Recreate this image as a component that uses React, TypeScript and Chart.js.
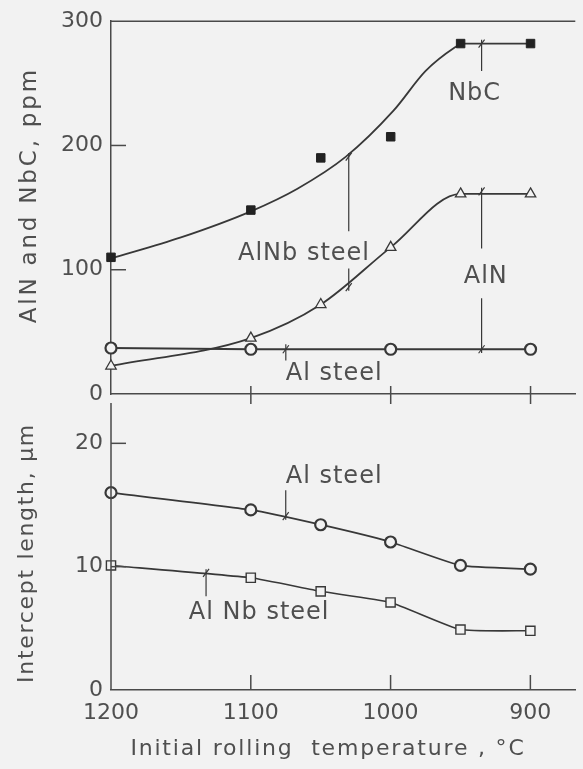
import React, { useEffect, useRef } from 'react';
import { Chart, registerables } from 'chart.js';

Chart.register(...registerables);

// ---------------- data ----------------
const sampleTemps = [1200, 1100, 1050, 1000, 950, 900];
const nbcPpm = [110, 148, 190, 207, 282, 282];
const nbcFitTemps = [1200, 1150, 1100, 1067, 1032, 998, 975, 954, 949, 900];
const nbcFitPpm = [109, 126, 147, 165, 191, 228, 260, 279, 282, 282];
const alnPpm = [22.5, 45, 72, 118, 161, 161];
const alSteelTemps = [1200, 1100, 1000, 900];
const alSteelAlnPpm = [37, 36, 36, 36];
const alSteelIntercept = [16.0, 14.6, 13.4, 12.0, 10.1, 9.8];
const alNbSteelIntercept = [10.1, 9.1, 8.0, 7.1, 4.9, 4.8];
const tempTicks = [1200, 1100, 1000, 900];
const ppmTicks = [0, 100, 200, 300];
const interceptTicks = [0, 10, 20];

// annotations (temperature, value)
const ppmNotes = [
  { text: 'NbC', temp: 940, value: 242, align: 'center' },
  { text: 'AlNb steel', temp: 1062, value: 113, align: 'center' },
  { text: 'AlN', temp: 932, value: 94, align: 'center' },
  { text: 'Al steel', temp: 1075, value: 16, align: 'left' },
];
const ppmLeaders = [
  [935, 285, 260],
  [1030, 194, 131],
  [1030, 101, 83],
  [935, 166, 117],
  [935, 77, 33],
  [1075, 40, 27],
];
const ppmMarks = [[1030, 191], [1030, 86], [935, 282], [935, 163], [935, 36], [1075, 36]];
const umNotes = [
  { text: 'Al steel', temp: 1075, value: 17.3, align: 'left' },
  { text: 'Al Nb steel', temp: 1094, value: 6.3, align: 'center' },
];
const umLeaders = [
  [1075, 16.2, 13.8],
  [1132, 9.8, 7.6],
];
const umMarks = [[1075, 14.1], [1132, 9.5]];

// ---------------- styles ----------------
const FONT = "'DejaVu Sans', sans-serif";
const INK = '#383838';
const AXIS = '#4a4a4a';
const TEXT = '#4f4f4f';
const BG = '#f2f2f2';
const X_MIN = 868;
const X_MAX = 1200;

const pts = (xs: number[], ys: number[]) => xs.map((x, i) => ({ x, y: ys[i] }));

function drawText(ctx: any, s: string, x: number, y: number, size: number, spacing: number, align = 'center', rot = 0) {
  ctx.save();
  ctx.translate(x, y);
  if (rot) ctx.rotate(rot);
  ctx.font = `${size}px ${FONT}`;
  try { ctx.letterSpacing = spacing + 'px'; } catch (e) {}
  ctx.fillStyle = TEXT;
  ctx.textAlign = align;
  ctx.textBaseline = 'middle';
  ctx.fillText(s, 0, 0);
  ctx.restore();
}

function seg(ctx: any, x1: number, y1: number, x2: number, y2: number) {
  ctx.beginPath();
  ctx.moveTo(x1, y1);
  ctx.lineTo(x2, y2);
  ctx.stroke();
}

function drawNotes(ctx: any, chart: any, notes: any[], leaders: number[][], marks: number[][]) {
  const xs = chart.scales.x;
  const ys = chart.scales.y;
  ctx.save();
  ctx.strokeStyle = INK;
  ctx.lineWidth = 1.2;
  leaders.forEach(([t, a, b]) => {
    const px = xs.getPixelForValue(t);
    seg(ctx, px, ys.getPixelForValue(a), px, ys.getPixelForValue(b));
  });
  marks.forEach(([t, v]) => {
    const px = xs.getPixelForValue(t);
    const py = ys.getPixelForValue(v);
    seg(ctx, px - 3, py + 4, px + 3, py - 4);
  });
  ctx.restore();
  notes.forEach((n) => {
    drawText(ctx, n.text, xs.getPixelForValue(n.temp), ys.getPixelForValue(n.value), 24, 1, n.align);
  });
}

const topDecor = {
  id: 'topDecor',
  afterDraw(chart: any) {
    const { ctx, chartArea: a, scales } = chart;
    ctx.save();
    ctx.strokeStyle = AXIS;
    ctx.lineWidth = 1.5;
    seg(ctx, a.left, a.top, a.right, a.top);
    ppmTicks.slice(1, -1).forEach((v) => {
      const py = scales.y.getPixelForValue(v);
      seg(ctx, a.left, py, a.left + 15, py);
    });
    tempTicks.slice(1).forEach((t) => {
      const px = scales.x.getPixelForValue(t);
      seg(ctx, px, a.bottom - 8, px, a.bottom + 10);
    });
    ctx.restore();
    drawNotes(ctx, chart, ppmNotes, ppmLeaders, ppmMarks);
    drawText(ctx, 'AlN and NbC, ppm', a.left - 81, a.top + 174, 23, 2.8, 'center', -Math.PI / 2);
  },
};

const bottomDecor = {
  id: 'bottomDecor',
  afterDraw(chart: any) {
    const { ctx, chartArea: a, scales } = chart;
    ctx.save();
    ctx.strokeStyle = AXIS;
    ctx.lineWidth = 1.5;
    seg(ctx, a.left, a.top + 9, a.left, a.bottom);
    interceptTicks.slice(1).forEach((v) => {
      const py = scales.y.getPixelForValue(v);
      seg(ctx, a.left, py, a.left + 15, py);
    });
    tempTicks.slice(1).forEach((t) => {
      const px = scales.x.getPixelForValue(t);
      seg(ctx, px, a.bottom - 15, px, a.bottom);
    });
    ctx.restore();
    drawNotes(ctx, chart, umNotes, umLeaders, umMarks);
    drawText(ctx, 'Intercept length, µm', a.left - 84, a.top + 159, 22, 1.7, 'center', -Math.PI / 2);
    drawText(ctx, 'Initial rolling  temperature , °C', 328, a.bottom + 59, 22, 1.8, 'center');
  },
};

const tickFont = { family: FONT, size: 22 };
const plain = (v: any) => String(v);

function xScale(showLabels: boolean, height: number) {
  return {
    type: 'linear',
    reverse: true,
    min: X_MIN,
    max: X_MAX,
    afterBuildTicks: (s: any) => { s.ticks = tempTicks.map((v) => ({ value: v })); },
    afterFit: (s: any) => { s.height = height; },
    grid: { display: false, drawTicks: false },
    border: { display: true, color: AXIS, width: 1.5 },
    ticks: { display: showLabels, font: tickFont, color: TEXT, padding: 10, maxRotation: 0, autoSkip: false, callback: plain },
  };
}

function yScale(max: number, ticks: number[], border: boolean) {
  return {
    type: 'linear',
    min: 0,
    max,
    afterBuildTicks: (s: any) => { s.ticks = ticks.map((v) => ({ value: v })); },
    afterFit: (s: any) => { s.width = 111; },
    grid: { display: false, drawTicks: false },
    border: { display: border, color: AXIS, width: 1.5 },
    ticks: { font: tickFont, color: TEXT, padding: 8, callback: plain },
  };
}

const common = {
  responsive: false,
  animation: false,
  devicePixelRatio: 1,
  plugins: { legend: { display: false }, tooltip: { enabled: false } },
  events: [],
};

function topConfig(): any {
  return {
    type: 'line',
    data: {
      datasets: [
        {
          label: 'NbC',
          data: pts(sampleTemps, nbcPpm),
          showLine: false,
          pointStyle: 'rect',
          pointRadius: 6,
          pointBackgroundColor: '#222',
          pointBorderColor: '#222',
          pointBorderWidth: 1,
          clip: false,
        },
        {
          label: 'NbC fit',
          data: pts(nbcFitTemps, nbcFitPpm),
          borderColor: INK,
          borderWidth: 1.8,
          pointRadius: 0,
          cubicInterpolationMode: 'monotone',
          clip: false,
        },
        {
          label: 'AlN',
          data: pts(sampleTemps, alnPpm),
          borderColor: INK,
          borderWidth: 1.8,
          pointStyle: 'triangle',
          pointRadius: 6,
          pointBackgroundColor: BG,
          pointBorderColor: INK,
          pointBorderWidth: 1.3,
          cubicInterpolationMode: 'monotone',
          clip: false,
        },
        {
          label: 'Al steel',
          data: pts(alSteelTemps, alSteelAlnPpm),
          borderColor: INK,
          borderWidth: 2,
          tension: 0,
          pointStyle: 'circle',
          pointRadius: 5.5,
          pointBackgroundColor: BG,
          pointBorderColor: INK,
          pointBorderWidth: 2.2,
          clip: false,
        },
      ],
    },
    options: {
      ...common,
      layout: { padding: { top: 21, left: 0, right: 0, bottom: 0 } },
      scales: { x: xScale(false, 26), y: yScale(300, ppmTicks, true) },
    },
    plugins: [topDecor],
  };
}

function bottomConfig(): any {
  return {
    type: 'line',
    data: {
      datasets: [
        {
          label: 'Al steel',
          data: pts(sampleTemps, alSteelIntercept),
          borderColor: INK,
          borderWidth: 1.8,
          tension: 0.15,
          pointStyle: 'circle',
          pointRadius: 5.5,
          pointBackgroundColor: BG,
          pointBorderColor: INK,
          pointBorderWidth: 2.2,
          clip: false,
        },
        {
          label: 'AlNb steel',
          data: pts(sampleTemps, alNbSteelIntercept),
          borderColor: INK,
          borderWidth: 1.6,
          tension: 0.15,
          pointStyle: 'rect',
          pointRadius: 6.5,
          pointBackgroundColor: BG,
          pointBorderColor: INK,
          pointBorderWidth: 1.4,
          clip: false,
        },
      ],
    },
    options: {
      ...common,
      layout: { padding: { top: 24, left: 0, right: 0, bottom: 0 } },
      scales: { x: xScale(true, 79), y: yScale(24, interceptTicks, false) },
    },
    plugins: [bottomDecor],
  };
}

export default function App() {
  const topRef = useRef<HTMLCanvasElement>(null);
  const botRef = useRef<HTMLCanvasElement>(null);
  useEffect(() => {
    const c1 = new Chart(topRef.current as HTMLCanvasElement, topConfig());
    const c2 = new Chart(botRef.current as HTMLCanvasElement, bottomConfig());
    return () => {
      c1.destroy();
      c2.destroy();
    };
  }, []);
  return (
    <div style={{ position: 'absolute', left: 0, top: 0, width: 583, height: 769, background: BG, overflow: 'hidden' }}>
      <canvas ref={topRef} width={583} height={420} style={{ position: 'absolute', left: 0, top: 0, width: 583, height: 420 }} />
      <canvas ref={botRef} width={583} height={399} style={{ position: 'absolute', left: 0, top: 370, width: 583, height: 399 }} />
    </div>
  );
}
